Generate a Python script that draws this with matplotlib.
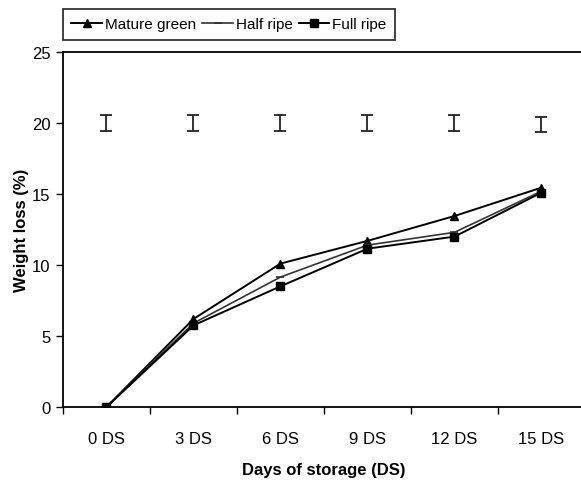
#!/usr/bin/env python3
import numpy as np
import matplotlib
matplotlib.use('Agg')
import matplotlib.pyplot as plt

plt.rcParams['font.family'] = ['Liberation Sans', 'DejaVu Sans']

# data
days = ['0 DS', '3 DS', '6 DS', '9 DS', '12 DS', '15 DS']
mature_green = [0.0, 6.2, 10.1, 11.7, 13.45, 15.45]
half_ripe = [0.0, 5.9, 9.15, 11.4, 12.3, 15.2]
full_ripe = [0.0, 5.75, 8.5, 11.15, 12.0, 15.1]
# LSD bars drawn at the top of the chart
lsd_center = [20.0, 20.0, 20.0, 20.0, 20.0, 19.9]
lsd_half = [0.55, 0.55, 0.55, 0.55, 0.55, 0.52]

fig = plt.figure(figsize=(5.81, 4.81), dpi=100)
W, H = 581, 481
ax = fig.add_axes([63 / W, 1 - 408 / H, (585 - 63) / W, (408 - 53) / H])

x = np.arange(len(days))
ax.plot(x, mature_green, color='black', lw=1.4, marker='^', ms=6, label='Mature green')
ax.plot(x, half_ripe, color='#333333', lw=1.2, marker='_', ms=6, mew=1.2, label='Half ripe')
ax.plot(x, full_ripe, color='black', lw=1.4, marker='s', ms=5.5, label='Full ripe')

ax.errorbar(x, lsd_center, yerr=lsd_half, fmt='none', ecolor='#222222',
            elinewidth=1.3, capsize=4, capthick=1.3)

ax.set_xlim(-0.5, len(days) - 0.5)
ax.set_ylim(0, 25)
ax.set_yticks(np.arange(0, 26, 5))
ax.set_xticks(x)
ax.set_xticklabels(days)
ax.set_xticks(np.arange(-0.5, len(days), 1), minor=True)
ax.tick_params(axis='x', which='major', length=0, pad=17, labelsize=12)
ax.tick_params(axis='x', which='minor', length=5, direction='out', width=1)
ax.tick_params(axis='y', length=5, direction='out', width=1, labelsize=12, pad=4)

for s in ax.spines.values():
    s.set_linewidth(1.3)
    s.set_color('black')

ax.set_xlabel('Days of storage (DS)', fontsize=12, fontweight='bold', labelpad=12)
ax.set_ylabel('Weight loss (%)', fontsize=12, fontweight='bold', labelpad=2)

leg = fig.legend(loc='upper left', bbox_to_anchor=(63 / W, 1 - 10 / H), ncol=3,
                 fontsize=11, frameon=True, fancybox=False, edgecolor='black',
                 handlelength=2.0, handletextpad=0.2, columnspacing=0.4,
                 borderpad=0.55, borderaxespad=0)
leg.get_frame().set_linewidth(1.3)

plt.savefig('out.png', dpi=100)
plt.close()
